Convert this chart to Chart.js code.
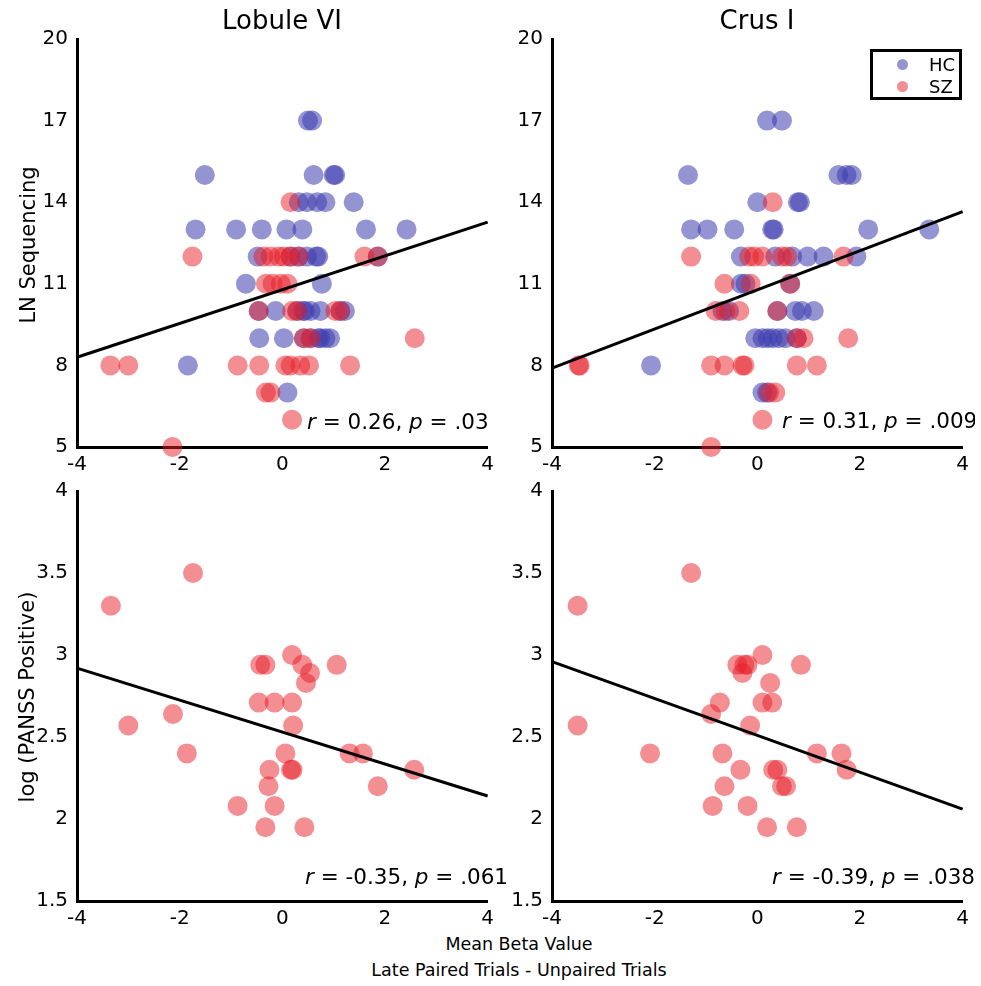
<!DOCTYPE html>
<html>
<head>
<meta charset="utf-8">
<script src="https://cdn.jsdelivr.net/npm/chart.js@4.4.1/dist/chart.umd.min.js"></script>
<style>
  body { margin: 0; background: #fff; }
  #fig { position: relative; width: 981px; height: 986px; overflow: hidden; font-family: 'DejaVu Sans', sans-serif; color: #000; }
  canvas { position: absolute; }
  .txt { position: absolute; white-space: nowrap; }
  .title { font-size: 26px; transform: translate(-50%, -50%); }
  .ylab { font-size: 21px; transform: translate(-50%, -50%) rotate(-90deg); line-height: 21px; }
  .xlab { font-size: 17.5px; transform: translateX(-50%); text-align: center; line-height: 26px; }
  .stat { font-size: 21.5px; transform: translateY(-50%); }
  .clipbox { position: absolute; left: 0; top: 400px; width: 975px; height: 40px; overflow: hidden; }
  .legend { position: absolute; left: 870px; top: 49px; width: 86px; height: 45px; border: 3px solid #000; font-size: 18px; }
  .legend div { position: absolute; left: 0; height: 22px; line-height: 22px; }
  .dot { display: inline-block; width: 11px; height: 11px; border-radius: 50%; position: absolute; left: 24px; top: 5px; }
  .legend span.lab { position: absolute; left: 56px; }
</style>
</head>
<body>
<div id="fig">
  <canvas id="c1" width="500" height="459" style="left:0px;top:18px"></canvas>
  <canvas id="c2" width="500" height="459" style="left:475px;top:18px"></canvas>
  <canvas id="c3" width="500" height="461" style="left:0px;top:470px"></canvas>
  <canvas id="c4" width="500" height="461" style="left:475px;top:470px"></canvas>

  <div class="txt title" style="left:282px;top:20px">Lobule VI</div>
  <div class="txt title" style="left:757px;top:20px">Crus I</div>
  <div class="txt ylab" style="left:28px;top:245px">LN Sequencing</div>
  <div class="txt ylab" style="left:27px;top:697px">log (PANSS Positive)</div>
  <div class="txt xlab" style="left:519px;top:931px">Mean Beta Value<br>Late Paired Trials - Unpaired Trials</div>

  <div class="txt stat" style="left:307px;top:421px"><i>r</i> = 0.26, <i>p</i> = .03</div>
  <div class="clipbox"><div class="txt stat" style="left:782px;top:20px"><i>r</i> = 0.31, <i>p</i> = .009</div></div>
  <div class="txt stat" style="left:305px;top:876px"><i>r</i> = -0.35, <i>p</i> = .061</div>
  <div class="txt stat" style="left:772px;top:876px"><i>r</i> = -0.39, <i>p</i> = .038</div>

  <div class="legend">
    <div style="top:2px;width:86px"><span class="dot" style="background:rgba(60,60,175,0.55)"></span><span class="lab">HC</span></div>
    <div style="top:24px;width:86px"><span class="dot" style="background:rgba(232,30,40,0.5)"></span><span class="lab">SZ</span></div>
  </div>
</div>

<script>
// ---- data: Lobule VI, LN Sequencing ----
const lobHcX = [0.50, 0.58,
  -1.51, 0.61, 1.00, 1.03,
  0.32, 0.48, 0.68, 0.84, 1.39,
  -1.69, -0.90, -0.40, 0.08, 0.39, 1.63, 2.42,
  -0.48, 0.16, 0.32, 0.48, 0.66, 0.70, 1.86,
  -0.71, 0.77,
  -0.46, -0.13, 0.29, 0.40, 0.44, 0.55, 0.74, 1.13, 1.22,
  -0.45, 0.03, 0.42, 0.55, 0.70, 0.74, 0.84, 0.93,
  -1.84,
  0.10];
const lobHcY = [17, 17,
  15, 15, 15, 15,
  14, 14, 14, 14, 14,
  13, 13, 13, 13, 13, 13, 13,
  12, 12, 12, 12, 12, 12, 12,
  11, 11,
  10, 10, 10, 10, 10, 10, 10, 10, 10,
  9, 9, 9, 9, 9, 9, 9, 9,
  8,
  7];
const lobSzX = [0.16,
  -1.75, -0.37, -0.23, -0.07, 0.03, 0.16, 0.32, 1.60, 1.86,
  -0.32, -0.19, -0.03, 0.10,
  -0.46, 0.19, 0.29, 1.03, 1.13,
  0.42, 0.55, 2.58,
  -3.35, -3.00, -0.87, -0.45, 0.06, 0.16, 0.35, 0.52, 1.32,
  -0.32, -0.23,
  0.19,
  -2.14];
const lobSzY = [14,
  12, 12, 12, 12, 12, 12, 12, 12, 12,
  11, 11, 11, 11,
  10, 10, 10, 10, 10,
  9, 9, 9,
  8, 8, 8, 8, 8, 8, 8, 8, 8,
  7, 7,
  6,
  5];
const lobFitX = [-4, 4];
const lobFitY = [8.3, 13.27];

// ---- data: Crus I, LN Sequencing ----
const crusHcX = [0.19, 0.48,
  -1.35, 1.58, 1.74, 1.84,
  0.00, 0.79, 0.83,
  -1.29, -0.97, -0.45, 0.29, 0.32, 2.16, 3.35,
  -0.32, 0.35, 0.68, 0.98, 1.29, 1.93,
  -0.32, -0.23, 0.64,
  -0.68, -0.55, 0.39, 0.74, 0.87, 1.10,
  -0.04, 0.10, 0.20, 0.30, 0.42, 0.55, 0.77,
  -2.07,
  0.10, 0.19];
const crusHcY = [17, 17,
  15, 15, 15, 15,
  14, 14, 14,
  13, 13, 13, 13, 13, 13, 13,
  12, 12, 12, 12, 12, 12,
  11, 11, 11,
  10, 10, 10, 10, 10, 10,
  9, 9, 9, 9, 9, 9, 9,
  8,
  7, 7];
const crusSzX = [0.30,
  -1.29, -0.16, -0.06, 0.10, 0.48, 0.58, 1.68,
  -0.64, -0.13, 0.64,
  -0.81, -0.62, -0.35, 0.39,
  0.77, 0.90, 1.77,
  -3.48, -3.46, -0.90, -0.64, -0.29, -0.25, 0.77, 1.16,
  0.23, 0.35,
  0.10,
  -0.90];
const crusSzY = [14,
  12, 12, 12, 12, 12, 12, 12,
  11, 11, 11,
  10, 10, 10, 10,
  9, 9, 9,
  8, 8, 8, 8, 8, 8, 8, 8,
  7, 7,
  6,
  5];
const crusFitX = [-4, 4];
const crusFitY = [7.9, 13.65];

// ---- data: log (PANSS Positive), SZ only ----
const lobPanssX = [-3.34, -1.74, -3.00, -2.13, -1.86, -0.87, -0.46, -0.43, -0.33, -0.15,
  -0.25, -0.27, -0.33, -0.15, 0.06, 0.19, 0.19, 0.21, 0.17, 0.20,
  0.39, 0.46, 0.54, 0.43, 1.06, 1.31, 1.57, 1.86, 2.57];
const lobPanssY = [3.30, 3.50, 2.57, 2.64, 2.40, 2.08, 2.71, 2.94, 2.94, 2.71,
  2.30, 2.20, 1.95, 2.08, 2.40, 3.00, 2.71, 2.57, 2.30, 2.30,
  2.94, 2.83, 2.89, 1.95, 2.94, 2.40, 2.40, 2.20, 2.30];
const lobPanssFitY = [2.92, 2.14];

const crusPanssX = [-3.50, -3.50, -1.29, -2.09, -0.87, -0.90, -0.73, -0.68, -0.64, -0.33,
  -0.39, -0.29, -0.25, -0.19, -0.14, -0.19, 0.10, 0.10, 0.19, 0.25,
  0.29, 0.31, 0.39, 0.48, 0.56, 0.85, 0.77, 1.16, 1.64, 1.74];
const crusPanssY = [3.30, 2.57, 3.50, 2.40, 2.08, 2.64, 2.71, 2.40, 2.20, 2.30,
  2.94, 2.89, 2.94, 2.94, 2.57, 2.08, 3.00, 2.71, 1.95, 2.83,
  2.71, 2.30, 2.30, 2.20, 2.20, 2.94, 1.95, 2.40, 2.40, 2.30];
const crusPanssFitY = [2.96, 2.06];

const xTicks = { min: -4, max: 4, step: 2 };
const lnTicks = { min: 5, max: 20, step: 3 };
const panssTicks = { min: 1.5, max: 4, step: 0.5 };

const hcColor = 'rgba(60, 60, 175, 0.55)';
const szColor = 'rgba(232, 30, 40, 0.5)';

Chart.defaults.font.family = "'DejaVu Sans', sans-serif";
Chart.defaults.color = '#000';

function pts(xs, ys) {
  return xs.map((x, i) => ({ x: x, y: ys[i] }));
}

function dots(xs, ys, color, order) {
  return {
    data: pts(xs, ys),
    backgroundColor: color,
    pointRadius: 10,
    pointBorderWidth: 0,
    clip: false,
    order: order
  };
}

function fitLine(xs, ys) {
  return {
    data: pts(xs, ys),
    showLine: true,
    borderColor: '#000',
    borderWidth: 3,
    pointRadius: 0,
    clip: false,
    order: 0
  };
}

function axis(t, extra) {
  return Object.assign({
    type: 'linear',
    min: t.min,
    max: t.max,
    grid: { display: false, drawTicks: false },
    border: { display: true, color: '#000', width: 3 },
    ticks: {
      stepSize: t.step,
      color: '#000',
      font: { size: 20 },
      callback: v => String(v)
    }
  }, extra);
}

function makeChart(id, datasets, yT) {
  const xs = axis(xTicks, { afterFit: s => { s.height = 30; } });
  xs.ticks.padding = 6;
  const ys = axis(yT, { afterFit: s => { s.width = 77; } });
  ys.ticks.padding = 9;
  return new Chart(document.getElementById(id), {
    type: 'scatter',
    data: { datasets: datasets },
    options: {
      responsive: false,
      animation: false,
      events: [],
      layout: { padding: { top: 12, right: 12, left: 0, bottom: 0 } },
      plugins: { legend: { display: false }, tooltip: { enabled: false } },
      scales: { x: xs, y: ys }
    }
  });
}

makeChart('c1', [
  dots(lobHcX, lobHcY, hcColor, 2),
  dots(lobSzX, lobSzY, szColor, 1),
  fitLine(lobFitX, lobFitY)
], lnTicks);

makeChart('c2', [
  dots(crusHcX, crusHcY, hcColor, 2),
  dots(crusSzX, crusSzY, szColor, 1),
  fitLine(crusFitX, crusFitY)
], lnTicks);

makeChart('c3', [
  dots(lobPanssX, lobPanssY, szColor, 1),
  fitLine(lobFitX, lobPanssFitY)
], panssTicks);

makeChart('c4', [
  dots(crusPanssX, crusPanssY, szColor, 1),
  fitLine(crusFitX, crusPanssFitY)
], panssTicks);
</script>
</body>
</html>
